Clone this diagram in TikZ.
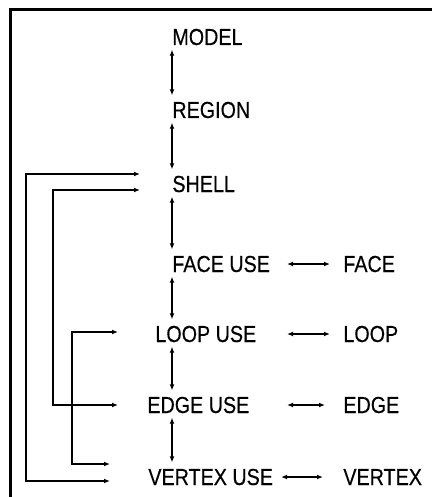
\documentclass[tikz,border=0pt]{standalone}
\usepackage{fontspec}
\setmainfont[FakeStretch=0.85,FakeBold=0.4]{Liberation Sans}
\usetikzlibrary{arrows.meta,calc}

\begin{document}
\begin{tikzpicture}[
  x=0.5pt, y=-0.5pt,
  font=\fontsize{11.6}{14}\selectfont,
  >={Latex[length=3pt,width=2.4pt]},
  term/.style={anchor=base west, inner xsep=0pt, inner ysep=2pt},
  updown/.style={<->, line width=1pt, shorten >=1pt},
  pairlink/.style={<->, line width=0.6pt},
  pipe/.style={<->, line width=0.8pt},
  frame/.style={line width=1.5pt},
]
\useasboundingbox (0,0) rectangle (432,497);

\node[term] (model) at (172,45) {MODEL};
\node[term] (region) at (172,118) {REGION};
\node[term] (shell) at (172,192) {SHELL};
\node[term] (faceuse) at (172,272) {FACE USE};
\node[term] (loopuse) at (155,342) {LOOP USE};
\node[term] (edgeuse) at (147,413) {EDGE USE};
\node[term] (vertexuse) at (148,485) {VERTEX USE};

\node[term] (face) at (343,272) {FACE};
\node[term] (loop) at (343,342) {LOOP};
\node[term] (edge) at (343,413) {EDGE};
\node[term] (vertex) at (343,485) {VERTEX};

% main chain
\draw[updown] (model.south west) -- (region.north west);
\draw[updown] (region.south west) -- (shell.north west);
\draw[updown] (shell.south west) -- (faceuse.north west);
\draw[updown] (faceuse.south west) -- (faceuse.west |- loopuse.north);
\draw[updown] (faceuse.west |- loopuse.south) -- (faceuse.west |- edgeuse.north);
\draw[updown] (faceuse.west |- edgeuse.south) -- (faceuse.west |- vertexuse.north);

% uses to entities
\draw[pairlink] ($(face.west)+(-56,0)$) -- ($(face.west)+(-13,0)$);
\draw[pairlink] ($(loop.west)+(-56,0)$) -- ($(loop.west)+(-13,0)$);
\draw[pairlink] ($(edge.west)+(-56,0)$) -- ($(edge.west)+(-18,0)$);
\draw[pairlink] ($(vertex.west)+(-62,0)$) -- ($(vertex.west)+(-20,0)$);

% side links
\draw[pipe] ($(shell.west)+(-32,-10)$) -| ($(vertexuse.west)+(-122,4)$) -- ($(vertexuse.west)+(-38,4)$);
\draw[pipe] ($(shell.west)+(-32,6)$) -| ($(edgeuse.west)+(-94,0)$) -- ($(edgeuse.west)+(-29,0)$);
\draw[pipe] ($(loopuse.west)+(-37,-2)$) -| ($(vertexuse.west)+(-76,-13)$) -- ($(vertexuse.west)+(-38,-13)$);

\draw[frame] (432,10) -| (10,497);
\end{tikzpicture}
\end{document}
